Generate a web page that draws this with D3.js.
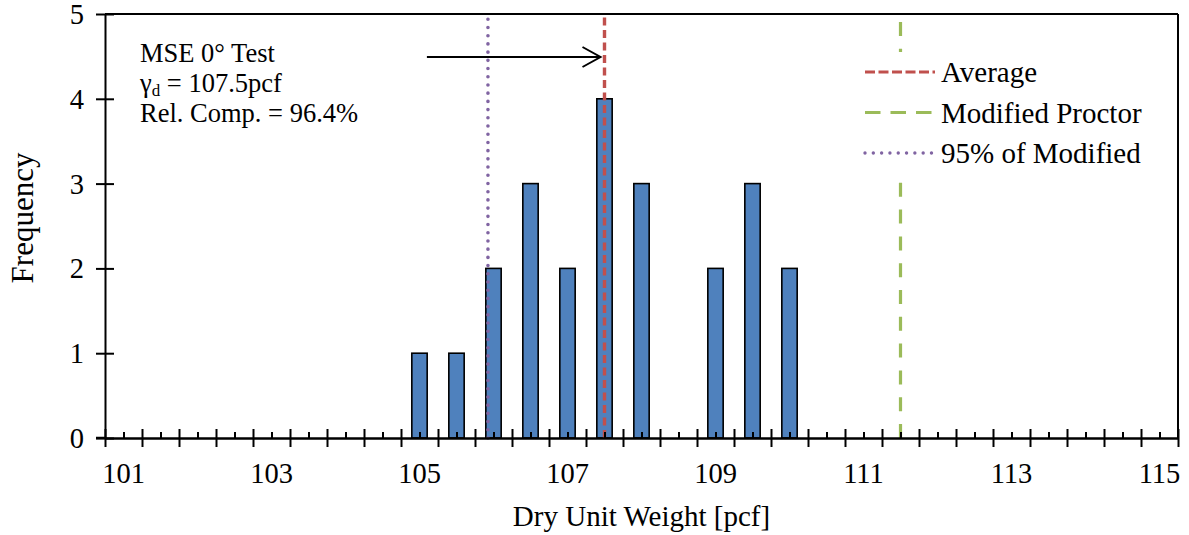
<!DOCTYPE html>
<html>
<head>
<meta charset="utf-8">
<script src="https://cdn.jsdelivr.net/npm/d3@7/dist/d3.min.js"></script>
<style>
  html, body { margin: 0; padding: 0; background: #fff; }
  svg { display: block; }
  text { font-family: "Liberation Serif", "Times New Roman", serif; fill: #000; }
</style>
</head>
<body>
<svg id="chart" width="1189" height="535"></svg>
<script>
// ---- data ----
const categories = [101,101.5,102,102.5,103,103.5,104,104.5,105,105.5,106,106.5,107,107.5,108,108.5,109,109.5,110,110.5,111,111.5,112,112.5,113,113.5,114,114.5,115];
const frequency  = [0,0,0,0,0,0,0,0,1,1,2,3,2,4,3,0,2,3,2,0,0,0,0,0,0,0,0,0,0];
const xTickLabels = [101,103,105,107,109,111,113,115];
const yTicks = [0,1,2,3,4,5];
const averageValue = 107.5;
const modifiedProctor = 111.5;
const percent95 = 0.95 * modifiedProctor;
const annotationLines = ["MSE 0° Test", "γd = 107.5pcf", "Rel. Comp. = 96.4%"];
const legendItems = [
  {label: "Average", color: "#C0504D", dash: "10,3.5", cap: "butt", w: 3.2},
  {label: "Modified Proctor", color: "#9BBB59", dash: "15.5,10", cap: "butt", w: 3.2},
  {label: "95% of Modified", color: "#8064A2", dash: "0.01,8.3", cap: "round", w: 3.4}
];

// ---- layout ----
const svg = d3.select("#chart");
const L = 105, R = 1178, T = 14, B = 438;

const xBand = d3.scaleBand()
  .domain(categories.map(String))
  .range([L, R])
  .paddingInner(0.585)
  .paddingOuter(0.2925);
const xv = d3.scaleLinear()
  .domain([categories[0] - 0.25, categories[categories.length - 1] + 0.25])
  .range([L, R]);
const y = d3.scaleLinear().domain([0, 5]).range([B, T]);

// bars
svg.append("g").selectAll("rect")
  .data(categories.map((c, i) => ({c, f: frequency[i]})).filter(d => d.f > 0))
  .join("rect")
  .attr("x", d => xBand(String(d.c)))
  .attr("width", xBand.bandwidth())
  .attr("y", d => y(d.f))
  .attr("height", d => y(0) - y(d.f))
  .attr("fill", "#4F81BD")
  .attr("stroke", "#000")
  .attr("stroke-width", 1.6);

// vertical reference lines (drawn from bottom up)
function vline(v, color, dash, width, cap) {
  svg.append("line")
    .attr("x1", xv(v)).attr("x2", xv(v))
    .attr("y1", y(0)).attr("y2", y(5))
    .attr("stroke", color).attr("stroke-width", width)
    .attr("stroke-dasharray", dash).attr("stroke-linecap", cap);
}
vline(averageValue, "#C0504D", "8,4.5", 3.4, "butt");
vline(modifiedProctor, "#9BBB59", "14,12.8", 3.2, "butt");
vline(percent95, "#8064A2", "0.01,8.2", 3.6, "round");

// axes frame
const axisG = svg.append("g").attr("stroke", "#000").attr("stroke-width", 2);
axisG.append("line").attr("x1", L).attr("x2", R).attr("y1", T).attr("y2", T);
axisG.append("line").attr("x1", R).attr("x2", R).attr("y1", T).attr("y2", B);

// y axis
const yAxis = d3.axisLeft(y).tickValues(yTicks).tickSizeInner(-9).tickSizeOuter(0).tickPadding(0).tickFormat("");
const yg = svg.append("g").attr("transform", `translate(${L},0)`).call(yAxis);
yg.select(".domain").attr("stroke", "#000").attr("stroke-width", 2);
yg.selectAll(".tick line").attr("x1", -9).attr("x2", 9).attr("stroke", "#000").attr("stroke-width", 2);
svg.append("g").selectAll("text").data(yTicks).join("text")
  .attr("x", 84).attr("y", d => y(d)).attr("dy", "0.35em")
  .attr("text-anchor", "end").attr("font-size", 28.5).text(d => d);

// x axis: major ticks at category boundaries (cross), minor at centers (inside)
const boundaries = d3.range(categories.length + 1).map(i => categories[0] - 0.25 + i * 0.5);
const xg = svg.append("g").attr("transform", `translate(0,${B})`)
  .call(d3.axisBottom(xv).tickValues(boundaries).tickSizeOuter(0).tickSizeInner(9).tickFormat(""));
xg.select(".domain").attr("stroke", "#000").attr("stroke-width", 2.5);
xg.selectAll(".tick line").attr("y1", -9).attr("y2", 9).attr("stroke", "#000").attr("stroke-width", 2);
svg.append("g").attr("transform", `translate(0,${B})`)
  .call(d3.axisBottom(xv).tickValues(categories).tickSizeOuter(0).tickSizeInner(-6).tickFormat(""))
  .call(g => g.select(".domain").remove())
  .selectAll(".tick line").attr("stroke", "#000").attr("stroke-width", 2);
svg.append("line").attr("x1", L - 9).attr("x2", L).attr("y1", B).attr("y2", B).attr("stroke", "#000").attr("stroke-width", 2.5);

svg.append("g").selectAll("text").data(xTickLabels).join("text")
  .attr("x", d => xv(d)).attr("y", 483)
  .attr("text-anchor", "middle").attr("font-size", 28.5).text(d => d);

// axis titles
svg.append("text").attr("x", (L + R) / 2).attr("y", 526)
  .attr("text-anchor", "middle").attr("font-size", 29).text("Dry Unit Weight [pcf]");
svg.append("text").attr("transform", "translate(33,218) rotate(-90)")
  .attr("text-anchor", "middle").attr("font-size", 31).text("Frequency");

// annotation
const ann = svg.append("g").attr("font-size", 26.5);
ann.append("text").attr("x", 140).attr("y", 62).text(annotationLines[0]);
const t2 = ann.append("text").attr("x", 140).attr("y", 92);
t2.append("tspan").text("γ");
t2.append("tspan").attr("font-size", 17).attr("dy", 4).text("d");
t2.append("tspan").attr("dy", -4).text(" = 107.5pcf");
ann.append("text").attr("x", 140).attr("y", 122).text(annotationLines[2]);

// arrow
const tipX = xv(averageValue) - 4, arrY = 57;
svg.append("line").attr("x1", xv(105.1)).attr("x2", tipX).attr("y1", arrY).attr("y2", arrY)
  .attr("stroke", "#000").attr("stroke-width", 2);
svg.append("path").attr("d", `M${tipX - 18},${arrY - 10}L${tipX},${arrY}L${tipX - 18},${arrY + 10}`)
  .attr("fill", "none").attr("stroke", "#000").attr("stroke-width", 2);

// legend
const lg = svg.append("g");
lg.append("rect").attr("x", 858).attr("y", 52).attr("width", 305).attr("height", 130).attr("fill", "#fff");
legendItems.forEach((d, i) => {
  const ly = 72 + i * 40.5;
  lg.append("line").attr("x1", 865).attr("x2", 935).attr("y1", ly).attr("y2", ly)
    .attr("stroke", d.color).attr("stroke-width", d.w).attr("stroke-dasharray", d.dash).attr("stroke-linecap", d.cap);
  lg.append("text").attr("x", 941).attr("y", ly + 10).attr("font-size", 29).text(d.label);
});
</script>
</body>
</html>
